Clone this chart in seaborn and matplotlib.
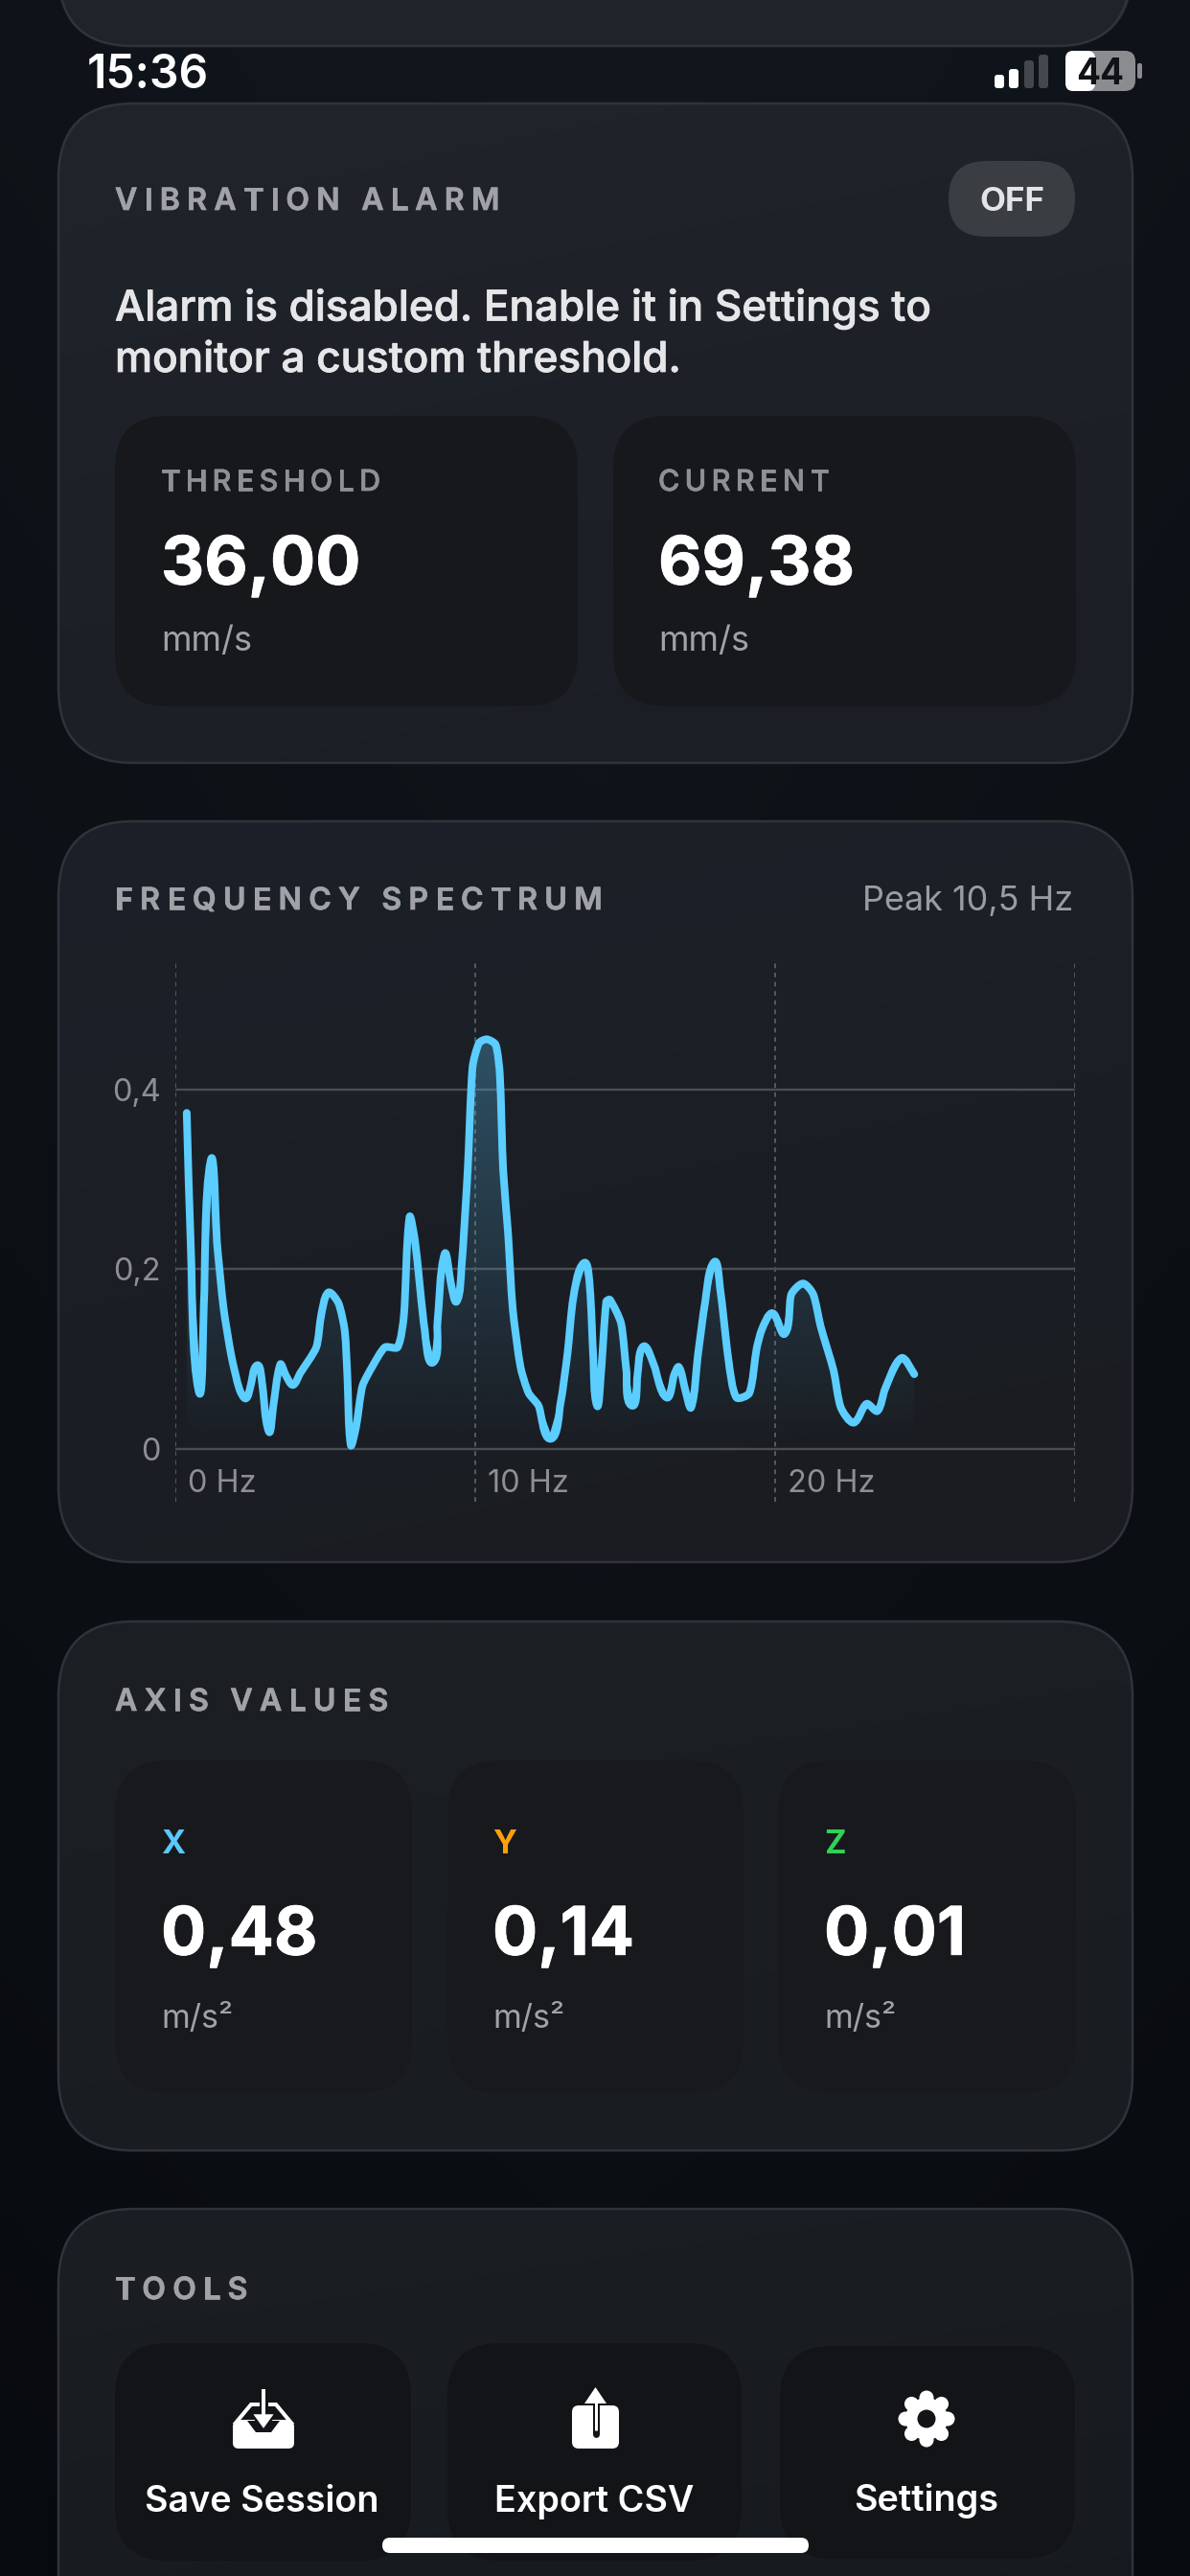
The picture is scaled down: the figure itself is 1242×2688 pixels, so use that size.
import numpy as np
import matplotlib
matplotlib.use("Agg")
import matplotlib.pyplot as plt
import seaborn as sns
from matplotlib.patches import FancyBboxPatch, Circle, Polygon, PathPatch
from matplotlib.path import Path
from matplotlib.text import Text
from matplotlib.transforms import Bbox, ScaledTranslation
import matplotlib.patheffects as pe

# ---------- data ----------
freq_hz = [0.38,0.52,0.78,0.95,1.18,1.39,1.61,1.87,2.14,2.35,2.51,2.73,2.89,3.12,3.26,3.50,3.68,3.92,4.16,4.70,
           4.86,5.10,5.44,5.65,5.74,5.85,6.03,6.24,6.56,6.99,7.41,7.62,7.81,8.00,8.32,8.59,8.74,8.98,9.19,9.38,
           9.54,9.75,9.91,10.13,10.39,10.68,10.82,10.93,11.09,11.25,11.51,11.78,12.11,12.51,12.84,13.08,13.27,13.63,13.82,13.94,
           14.06,14.18,14.37,14.49,14.86,15.04,15.22,15.41,15.61,15.96,16.38,16.63,16.79,17.00,17.20,17.42,17.67,17.97,18.16,18.46,
           18.71,19.14,19.38,19.56,19.91,20.32,20.54,20.93,21.27,21.52,21.95,22.19,22.62,23.05,23.41,23.66,24.21,24.64]
amplitude = [.374,.221,.064,.160,.321,.229,.156,.103,.066,.056,.070,.093,.074,.019,.046,.094,.082,.071,.084,.113,
             .148,.174,.162,.131,.078,.004,.025,.070,.091,.113,.113,.148,.258,.229,.131,.096,.140,.217,.184,.164,
             .201,.311,.425,.452,.456,.450,.417,.311,.242,.156,.091,.062,.048,.011,.050,.107,.168,.207,.180,.099,
             .048,.078,.164,.166,.140,.087,.048,.082,.114,.093,.057,.082,.091,.066,.046,.103,.164,.208,.180,.095,
             .057,.062,.111,.133,.151,.128,.172,.184,.172,.136,.087,.046,.029,.050,.042,.066,.101,.083]
x_ticks = [0, 10, 20, 30]
x_tick_labels = ["0 Hz", "10 Hz", "20 Hz", ""]
y_ticks = [0, 0.2, 0.4]
y_tick_labels = ["0", "0,2", "0,4"]
alarm_labels = ["THRESHOLD", "CURRENT"]
alarm_values = ["36,00", "69,38"]
axis_names = ["X", "Y", "Z"]
axis_values = ["0,48", "0,14", "0,01"]
tool_labels = ["Save Session", "Export CSV", "Settings"]

# ---------- canvas ----------
W, H = 1242, 2688
sns.set_theme(style="dark")
plt.rcParams["font.family"] = ["Inter", "DejaVu Sans"]
fig = plt.figure(figsize=(W / 100, H / 100), dpi=100, facecolor="#0b0f14")
bg = fig.add_axes([0, 0, 1, 1])
bg.set_xlim(0, W); bg.set_ylim(H, 0); bg.axis("off")

def hex2(c):
    return np.array(matplotlib.colors.to_rgb(c))

# background
yy, xx = np.mgrid[0:1:200j, 0:1:100j]
top, bot = hex2("#12171e"), hex2("#0a0d11")
side = 1 - 0.15 * np.abs(xx - 0.5) * 2
bgimg = (top[None, None] * (1 - yy[..., None]) + bot[None, None] * yy[..., None]) * side[..., None]
bg.imshow(bgimg, extent=(0, W, H, 0), aspect="auto", zorder=0, interpolation="bilinear")
bg.set_xlim(0, W); bg.set_ylim(H, 0)

def rbox(x0, y0, x1, y1, r, **kw):
    p = FancyBboxPatch((x0 + r, y0 + r), x1 - x0 - 2 * r, y1 - y0 - 2 * r,
                       boxstyle=f"round,pad={r},rounding_size={r}", **kw)
    bg.add_patch(p)
    return p

def card(x0, y0, x1, y1, c1, c2, r=78):
    yy, xx = np.mgrid[0:1:60j, 0:1:60j]
    t = (0.75 * yy + 0.25 * xx)[..., None]
    img = hex2(c1)[None, None] * (1 - t) + hex2(c2)[None, None] * t
    im = bg.imshow(img, extent=(x0, x1, y1, y0), aspect="auto", zorder=1, interpolation="bilinear")
    clip = rbox(x0, y0, x1, y1, r, fc="none", ec="#2f333a", lw=1.8, zorder=1.5)
    im.set_clip_path(clip)
    bg.set_xlim(0, W); bg.set_ylim(H, 0)

card(61, -120, 1182, 48, "#20242b", "#20232a")
card(61, 108, 1182, 796, "#20242b", "#1b1e24")
card(61, 857, 1182, 1630, "#1c2129", "#1a1c21")
card(61, 1692, 1182, 2244, "#1c1f24", "#191c20")
card(61, 2305, 1182, 2800, "#1b1e22", "#16191d")

TILE = "#16181c"
def tile(x0, y0, x1, y1, c=TILE):
    rbox(x0, y0, x1, y1, 55, fc=c, ec="none", zorder=2)

tile(120, 434, 603, 737); tile(640, 434, 1123, 737)
for a, b in [(120, 430), (467, 776), (812, 1123)]:
    tile(a, 1837, b, 2184, "#17191c")
for a, b, t0, t1 in [(120, 429, 2445, 2672), (467, 774, 2445, 2672), (814, 1122, 2448, 2670)]:
    tile(a, t0, b, t1, "#121417")

# ---------- text helpers ----------
def px(v):
    return v * 0.72

class TrackedText(Text):
    """One text artist with letter spacing, in pixels."""
    def __init__(self, x, y, s, track=0, **kw):
        super().__init__(x, y, s, **kw)
        self.track = track

    def _adv(self, renderer, s):
        fp = self.get_fontproperties()
        w = renderer.get_text_width_height_descent(s + "|", fp, False)[0]
        return w - renderer.get_text_width_height_descent("|", fp, False)[0]

    def get_window_extent(self, renderer=None, dpi=None):
        bb = super().get_window_extent(renderer, dpi)
        return Bbox.from_extents(bb.x0, bb.y0, bb.x1 + self.track * (len(self.get_text()) - 1), bb.y1)

    def draw(self, renderer):
        s = self.get_text()
        x0 = self.get_position()[0]
        for i, ch in enumerate(s):
            self.set_text(ch)
            self.set_x(x0 + self._adv(renderer, s[:i]) + i * self.track)
            super().draw(renderer)
        self.set_text(s)
        self.set_x(x0)

def label(x, y, s, size=32, track=7.3, color="#a0a2a7", weight="semibold"):
    t = TrackedText(x, y, s, track=track, fontsize=px(size), color=color, fontweight=weight,
                    ha="left", va="center_baseline", zorder=5)
    t.set_path_effects([pe.withStroke(linewidth=px(0.7), foreground=color)])
    bg.add_artist(t)
    return t

def txt(x, y, s, size, color="white", weight="normal", ha="left", stroke=0):
    t = bg.text(x, y, s, fontsize=px(size), color=color, fontweight=weight,
                ha=ha, va="center_baseline", zorder=5)
    if stroke:
        t.set_path_effects([pe.withStroke(linewidth=px(stroke), foreground=color)])
    return t

# ---------- status bar ----------
txt(91, 74, "15:36", 48, weight="semibold")
for (a, b, tp, c) in [(1038, 1048, 78, "white"), (1053, 1063, 72, "white"),
                      (1069, 1079, 63, "#44474c"), (1084, 1094, 57, "#44474c")]:
    rbox(a, tp, b, 92, 3, fc=c, ec="none", zorder=5)
rbox(1112, 53, 1185, 95, 11, fc="#8a8c90", ec="none", zorder=5)
rbox(1112, 53, 1143, 95, 8, fc="white", ec="none", zorder=5.1)
rbox(1187, 66, 1192, 82, 2, fc="#8a8c90", ec="none", zorder=5)
txt(1148, 74, "44", 37, color="#101215", weight="bold", ha="center").set_zorder(6)

# ---------- vibration alarm ----------
label(120, 207, "VIBRATION ALARM")
rbox(990, 168, 1122, 247, 39, fc="#3a3d42", ec="none", zorder=3)
txt(1056, 207, "OFF", 35, color="#e4e4e6", weight="bold", ha="center")
for yy_, line in zip([318, 372], ["Alarm is disabled. Enable it in Settings to", "monitor a custom threshold."]):
    txt(120, yy_, line, 44, color="#e6e6e8", weight="medium", stroke=0.8)
for x, lab, val in zip([168, 687], alarm_labels, alarm_values):
    label(x, 501, lab, size=30.5, track=5.4, color="#8e9095", weight="medium")
    txt(x, 584, val, 70, weight="bold", stroke=0.8)
    txt(x, 666, "mm/s", 36, color="#a0a2a6")

# ---------- spectrum ----------
label(120, 937, "FREQUENCY SPECTRUM")
txt(1120, 937, "Peak 10,5 Hz", 36, color="#9a9ca0", ha="right")

x0, x1, y_top, y_bot = 183, 1122, 1002, 1567
ax = fig.add_axes([x0 / W, 1 - y_bot / H, (x1 - x0) / W, (y_bot - y_top) / H], facecolor="none")
ax.patch.set_visible(False)
LINE = "#5bcdff"
sns.lineplot(x=freq_hz, y=amplitude, ax=ax, color=LINE, lw=px(4), sort=False, zorder=4,
             solid_capstyle="round", solid_joinstyle="round", errorbar=None, estimator=None)
ax.set_xlim(0, 30)
ax.set_ylim(-0.059, 0.544)

def smooth_path(line, sx, sy):
    """Bezier path through the line's own vertices (rounded like the original curve)."""
    p = line.get_xydata() * [sx, sy]
    d = np.gradient(p, axis=0)
    d[1:-1] = p[2:] - p[:-2]
    d /= np.maximum(np.linalg.norm(d, axis=1, keepdims=True), 1e-9)
    seg = np.linalg.norm(np.diff(p, axis=0), axis=1, keepdims=True)
    c1 = p[:-1] + d[:-1] * seg / 4.5
    c2 = p[1:] - d[1:] * seg / 4.5
    verts = [p[0]]
    codes = [Path.MOVETO]
    for a, b, c in zip(c1, c2, p[1:]):
        verts += [a, b, c]
        codes += [Path.CURVE4] * 3
    return np.array(verts) / [sx, sy], codes

verts, codes = smooth_path(ax.lines[0], 31.3, 937.5)
ax.add_patch(PathPatch(Path(verts, codes), fc="none", ec=LINE, lw=px(8), capstyle="round",
                       joinstyle="round", zorder=5))
closed = np.vstack([verts, [[verts[-1, 0], 0], [verts[0, 0], 0], verts[0]]])
fill_path = Path(closed, codes + [Path.LINETO] * 3)
grad = np.zeros((128, 2, 4))
grad[..., :3] = hex2("#5ac8fa")
grad[..., 3] = np.linspace(0.30, 0.0, 128)[:, None]
gi = ax.imshow(grad, extent=(0, 30, 0, 0.46), origin="upper", aspect="auto", zorder=3, interpolation="bilinear")
gi.set_clip_path(fill_path, transform=ax.transData)
ax.set_xlim(0, 30)
ax.set_ylim(-0.059, 0.544)

ax.set_xticks(x_ticks, x_tick_labels)
ax.set_yticks(y_ticks, y_tick_labels)
ax.set_xlabel(""); ax.set_ylabel("")
for s in ax.spines.values():
    s.set_visible(False)
ax.tick_params(axis="both", length=0, labelsize=px(32.5), labelcolor="#8e8e93")
ax.tick_params(axis="y", pad=px(15))
ax.tick_params(axis="x", pad=px(-34))
ax.grid(False)
ax.set_axisbelow(True)
for t in x_ticks:
    ax.axvline(t, color="#55585e", lw=px(2), dashes=(2.4, 2.4), zorder=1)
for t in y_ticks:
    ax.axhline(t, color="#4a4d52", lw=px(2.4), zorder=1)
offs = ScaledTranslation(13 / 100, 0, fig.dpi_scale_trans)
for tl in ax.get_xticklabels():
    tl.set_ha("left")
    tl.set_transform(tl.get_transform() + offs)

# ---------- axis values ----------
label(120, 1773, "AXIS VALUES")
for x, n, v, c in zip([168, 514, 860], axis_names, axis_values, ["#5ac8fa", "#ff9f0a", "#30d158"]):
    txt(x, 1922, n, 34, color=c, weight="bold")
    txt(x, 2014, v, 70, weight="bold", stroke=0.8)
    txt(x, 2103, "m/s²", 34, color="#a0a2a6")

# ---------- tools ----------
label(120, 2387, "TOOLS")
for x, y, s in zip([273, 620, 967], [2607, 2607, 2606], tool_labels):
    txt(x, y, s, 37.8, weight="semibold", ha="center")

dark = "#121417"
# save icon
bg.add_patch(Polygon([(247, 2527), (262, 2509), (288, 2509), (303, 2527)], closed=True, fc="none", ec="white", lw=px(4), zorder=6))
rbox(243, 2526, 307, 2555, 6, fc="white", ec="none", zorder=6)
bg.add_patch(Polygon([(258, 2526), (292, 2526), (283, 2538), (267, 2538)], closed=True, fc=dark, ec="none", zorder=6.1))
bg.plot([275, 275], [2493, 2530], color=dark, lw=px(9), zorder=6.2, solid_capstyle="butt")
bg.plot([275, 275], [2493, 2530], color="white", lw=px(4), zorder=6.3, solid_capstyle="butt")
bg.add_patch(Polygon([(262, 2518), (288, 2518), (275, 2536)], closed=True, fc="white", ec=dark, lw=px(2.5), zorder=6.25))
# export icon
rbox(597, 2510, 646, 2555, 7, fc="white", ec="none", zorder=6)
bg.plot([621.5, 621.5], [2502, 2540], color=dark, lw=px(7), zorder=6.1, solid_capstyle="round")
bg.plot([621.5, 621.5], [2497, 2536], color="white", lw=px(3), zorder=6.2, solid_capstyle="butt")
bg.add_patch(Polygon([(610, 2508), (633, 2508), (621.5, 2491)], closed=True, fc="white", ec="none", zorder=6.3))
# gear icon
for a in np.deg2rad(np.arange(0, 360, 45) + 22.5 + 67.5):
    bg.add_patch(Circle((967 + 22 * np.cos(a), 2524 + 22 * np.sin(a)), 7.5, fc="white", ec="none", zorder=6))
bg.add_patch(Circle((967, 2524), 22, fc="white", ec="none", zorder=6))
bg.add_patch(Circle((967, 2524), 9.5, fc=dark, ec="none", zorder=6.1))

# home indicator
rbox(399, 2648, 844, 2664, 8, fc="white", ec="none", zorder=8)

bg.set_xlim(0, W); bg.set_ylim(H, 0)
fig.savefig("out.png", dpi=100, facecolor=fig.get_facecolor())
